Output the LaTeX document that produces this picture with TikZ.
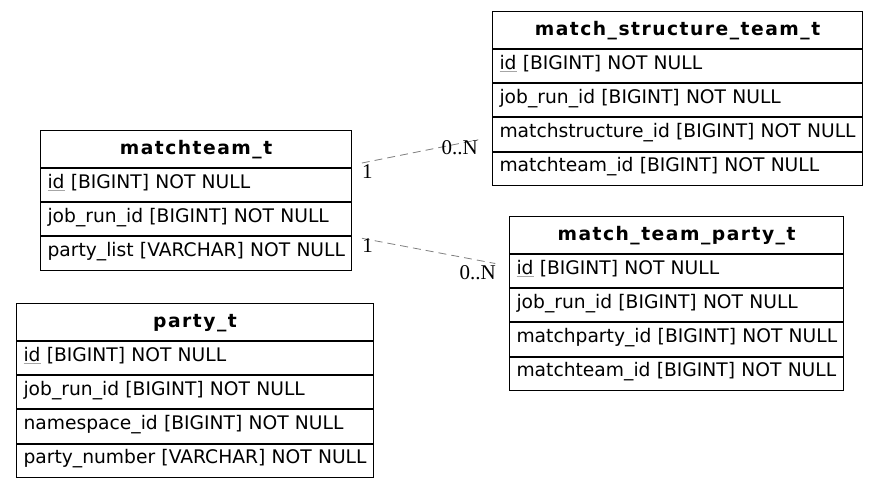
\documentclass[tikz,border=0pt]{standalone}
\usepackage{fontspec}
\setmainfont{DejaVu Sans}
\newfontfamily\headfont{DejaVu Sans}[BoldFont={DejaVu Sans Bold},LetterSpace=8]
\newfontfamily\cardfont{Liberation Serif}
\usetikzlibrary{positioning}
\newcommand{\pkey}[1]{\setbox0\hbox{#1}\rlap{\color{gray!70}\rule[-2.5pt]{\wd0}{0.7pt}}\box0{}}

\begin{document}
\begin{tikzpicture}[x=1pt,y=-1pt,node distance=0pt,line width=1pt,
                    font=\fontsize{18.7}{22}\selectfont]

  \tikzstyle{head}=[draw,inner sep=0pt,anchor=north west,text height=24pt,text depth=13pt,
                    font=\fontsize{18.7}{22}\headfont\bfseries]
  \tikzstyle{attr}=[draw,inner xsep=7pt,inner ysep=0pt,text height=19.8pt,text depth=13.4pt,
                    align=left,text width=#1,
                    execute at begin node={\leavevmode\hbox\bgroup},execute at end node={\egroup}]
  \tikzstyle{rel}=[draw=gray,line width=0.8pt,dash pattern=on 8pt off 5pt,
                   shorten <=10pt,shorten >=14pt]
  \tikzstyle{card}=[font=\fontsize{21}{22}\cardfont]

  \useasboundingbox (0,0) rectangle (877,484);

  \node[head,minimum width=311pt] (mt-head) at (40,130) {matchteam\_t};
  \node[attr=297pt] (mt-id)    [below=of mt-head] {\pkey{id} [BIGINT] NOT NULL};
  \node[attr=297pt] (mt-job)   [below=of mt-id]   {job\_run\_id [BIGINT] NOT NULL};
  \node[attr=297pt] (mt-party) [below=of mt-job]  {party\_list [VARCHAR] NOT NULL};

  \node[head,minimum width=357pt] (pt-head) at (16,303) {party\_t};
  \node[attr=343pt] (pt-id)  [below=of pt-head] {\pkey{id} [BIGINT] NOT NULL};
  \node[attr=343pt] (pt-job) [below=of pt-id]   {job\_run\_id [BIGINT] NOT NULL};
  \node[attr=343pt] (pt-ns)  [below=of pt-job]  {namespace\_id [BIGINT] NOT NULL};
  \node[attr=343pt] (pt-num) [below=of pt-ns]   {party\_number [VARCHAR] NOT NULL};

  \node[head,minimum width=370pt] (mst-head) at (492,11) {match\_structure\_team\_t};
  \node[attr=356pt] (mst-id)  [below=of mst-head] {\pkey{id} [BIGINT] NOT NULL};
  \node[attr=356pt] (mst-job) [below=of mst-id]   {job\_run\_id [BIGINT] NOT NULL};
  \node[attr=356pt] (mst-ms)  [below=of mst-job]  {matchstructure\_id [BIGINT] NOT NULL};
  \node[attr=356pt] (mst-mt)  [below=of mst-ms]   {matchteam\_id [BIGINT] NOT NULL};

  \node[head,minimum width=334pt] (mtp-head) at (509,216) {match\_team\_party\_t};
  \node[attr=320pt] (mtp-id)  [below=of mtp-head] {\pkey{id} [BIGINT] NOT NULL};
  \node[attr=320pt] (mtp-job) [below=of mtp-id]   {job\_run\_id [BIGINT] NOT NULL};
  \node[attr=320pt] (mtp-mp)  [below=of mtp-job]  {matchparty\_id [BIGINT] NOT NULL};
  \node[attr=320pt] (mtp-mt)  [below=of mtp-mp]   {matchteam\_id [BIGINT] NOT NULL};

  \draw[rel] ([yshift=3pt]mt-id.north east) -- ([yshift=-2.5pt]mst-ms.west)
    node[card,pos=0.11,yshift=-10pt] (c1) {1}
    node[card,pos=0.77,yshift=-4pt]  (c2) {0..N};
  \draw[rel] (mt-party.north east) -- ([yshift=5pt]mtp-id.west)
    node[card,pos=0.10,yshift=-6pt]  (c3) {1}
    node[card,pos=0.80,yshift=-13pt] (c4) {0..N};
\end{tikzpicture}
\end{document}
